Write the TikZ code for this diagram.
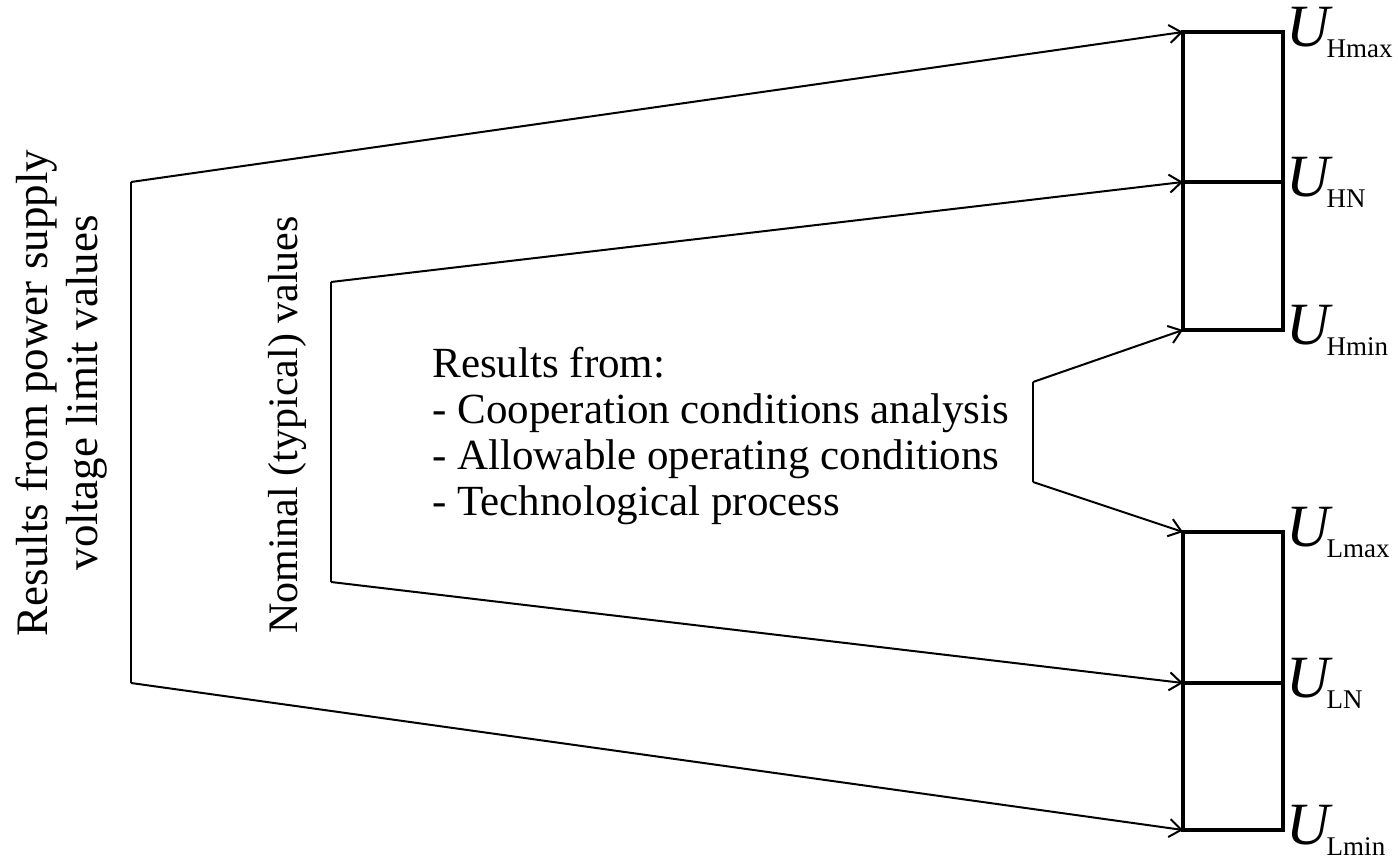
\documentclass[tikz,border=0pt]{standalone}
\usepackage{fontspec}
\setmainfont{Liberation Serif}
\usetikzlibrary{arrows.meta}

\newcommand{\txtsize}{\fontsize{21.5}{23}\selectfont}
% voltage level label: big italic U with a small upright index
\newcommand{\ulevel}[1]{{\fontsize{30}{30}\selectfont\itshape U}\kern-1.5pt\lower5.5pt\hbox{\fontsize{13.5}{14}\selectfont #1}}

\tikzset{
  feed/.style={line width=1pt, -{Straight Barb[length=6pt,width=9pt,line width=1pt]}},
  bar/.style={line width=2pt},
  lvl/.style={anchor=west, inner sep=0pt, xshift=1.5pt},
}

\begin{document}
\begin{tikzpicture}[x=0.5pt, y=-0.5pt]
        \useasboundingbox (0,0) rectangle (1398,865);

        % level marks on the two bars
        \coordinate (hmax) at (1183,32);
        \coordinate (hn)   at (1183,182);
        \coordinate (hmin) at (1183,330);
        \coordinate (lmax) at (1183,532);
        \coordinate (ln)   at (1183,683);
        \coordinate (lmin) at (1183,830);

        % high and low bars
        \draw[bar] (hmax) rectangle (1283,330);
        \draw[bar] (hn) -- (1283,182);
        \draw[bar] (lmax) rectangle (1283,830);
        \draw[bar] (ln) -- (1283,683);

        % labels
        \node[lvl] (uhmax) at (1283,32)  {\ulevel{Hmax}};
        \node[lvl] (uhn)   at (1283,182) {\ulevel{HN}};
        \node[lvl] (uhmin) at (1283,330) {\ulevel{Hmin}};
        \node[lvl] (ulmax) at (1283,532) {\ulevel{Lmax}};
        \node[lvl] (uln)   at (1283,683) {\ulevel{LN}};
        \node[lvl] (ulmin) at (1283,830) {\ulevel{Lmin}};

        % brackets
        \coordinate (sa) at (131,182);
        \coordinate (sb) at (131,683);
        \coordinate (na) at (331,282);
        \coordinate (nb) at (331,582);
        \coordinate (ra) at (1033,382);
        \coordinate (rb) at (1033,482);

        \draw[line width=1pt] (sa) -- (sb);
        \draw[line width=1pt] (na) -- (nb);
        \draw[line width=1pt] (ra) -- (rb);
        \draw[feed] (sa) -- (hmax);
        \draw[feed] (sb) -- (lmin);
        \draw[feed] (na) -- (hn);
        \draw[feed] (nb) -- (ln);
        \draw[feed] (ra) -- (hmin);
        \draw[feed] (rb) -- (lmax);

        % texts
        \node[rotate=90, align=center, font=\fontsize{22.5}{25}\selectfont] (supply) at (62,393)
          {Results from power supply\\voltage limit values};
        \node[rotate=90, font=\fontsize{21}{23}\selectfont] (nominal) at (287,425) {Nominal (typical) values};
        \node[anchor=north west, align=left, inner sep=0pt, font=\txtsize] (results) at (432,347)
          {Results from:\\- Cooperation conditions analysis\\- Allowable operating conditions\\- Technological process};
    \end{tikzpicture}
\end{document}
